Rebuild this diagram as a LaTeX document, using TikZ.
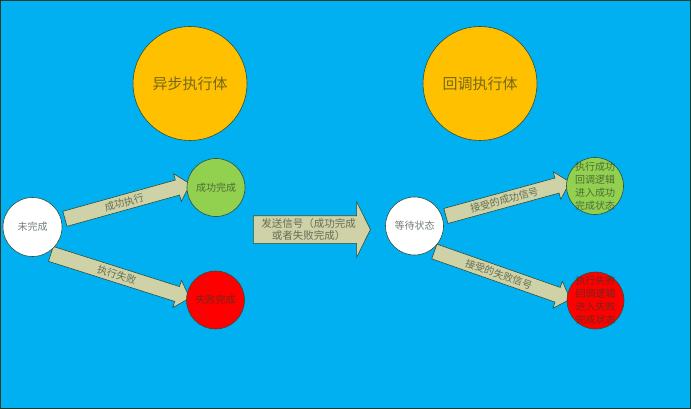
\documentclass[tikz,border=0pt]{standalone}
\usepackage{fontspec}
\setmainfont{Noto Sans CJK SC}
\usetikzlibrary{shapes.arrows,calc,positioning}
\pgfdeclarelayer{back}
\pgfdeclarelayer{flows}
\pgfsetlayers{back,flows,main}
\definecolor{skyblue}{HTML}{00B0F0}
\definecolor{amber}{HTML}{FFC000}
\definecolor{leaf}{HTML}{92D050}
\definecolor{alarm}{HTML}{FF0000}
\definecolor{khaki}{HTML}{CFD1A7}
\definecolor{rimc}{HTML}{2F4F3A}
\definecolor{textc}{HTML}{2A3A2A}
\definecolor{framec}{HTML}{1F3A2A}
% block arrow from one anchor to another, label on the shaft
\newcommand{\flowarr}[3]{%
  \path let \p1=($(#2)-(#1)$), \n1={atan2(\y1,\x1)}, \n2={veclen(\x1,\y1)} in
    node[flow,minimum height=\n2,rotate=\n1] at ($(#1)!0.5!(#2)$) {};
  \path (#1) -- node[sloped,txt] {#3} (#2);
}

\begin{document}
\begin{tikzpicture}[
  x=1pt,y=-1pt,
  font=\fontsize{10}{13}\selectfont,
  txt/.style={text=textc,text opacity=0.65},
  state/.style={circle,draw=rimc,line width=0.6pt,txt,inner sep=0pt,minimum size=58pt,align=center},
  bigstate/.style={state,fill=amber,minimum size=114pt,font=\fontsize{15}{18}\selectfont},
  flow/.style={single arrow,draw=rimc,line width=0.6pt,fill=khaki,inner xsep=0pt,inner ysep=7.5pt,
               single arrow head extend=6.5pt,single arrow tip angle=94},
  bigflow/.style={flow,inner ysep=13.5pt,single arrow head extend=14pt,single arrow tip angle=127},
]
\useasboundingbox (0,0) rectangle (691,409);
\begin{pgfonlayer}{back}
\draw[fill=skyblue,draw=framec,line width=1pt] (0.5,0.5) rectangle (690.5,408.5);
\end{pgfonlayer}
% ----- executors
\node[bigstate] (async) at (190,83.5) {异步执行体};
\node[bigstate] (callback) at (480,83.5) {回调执行体};
% ----- left: async states
\node[state,fill=white,minimum size=59pt] (undone) at (32.5,227) {未完成};
\node[state,fill=leaf] (succ) at (216,187.5) {成功完成};
\node[state,fill=alarm] (fail) at (215.5,300) {失败完成};
% ----- right: callback states
\node[state,fill=white] (wait) at (414.5,226) {等待状态};
\node[state,fill=leaf,minimum size=57pt,
      label={[align=center,txt]center:执行成功\\回调逻辑\\进入成功\\完成状态}] (okcb) at (595,186) {};
\node[state,fill=alarm,minimum size=57pt,
      label={[align=center,txt]center:执行失败\\回调逻辑\\进入失败\\完成状态}] (failcb) at (595.5,300.5) {};
% ----- block arrows
\begin{pgfonlayer}{flows}
\flowarr{undone.14}{succ.175}{成功执行}
\flowarr{undone.-60}{fail.174}{执行失败}
\flowarr{wait.18}{okcb.174}{接受的成功信号}
\flowarr{wait.-56}{failcb.175}{接受的失败信号}
\node[bigflow,minimum height=117pt] (signal) at (308.5,229.5) {};
\end{pgfonlayer}
\node[txt,align=center,font=\fontsize{10.5}{12}\selectfont] at (signal) {发送信号（成功完成\\或者失败完成）};
\end{tikzpicture}
\end{document}
